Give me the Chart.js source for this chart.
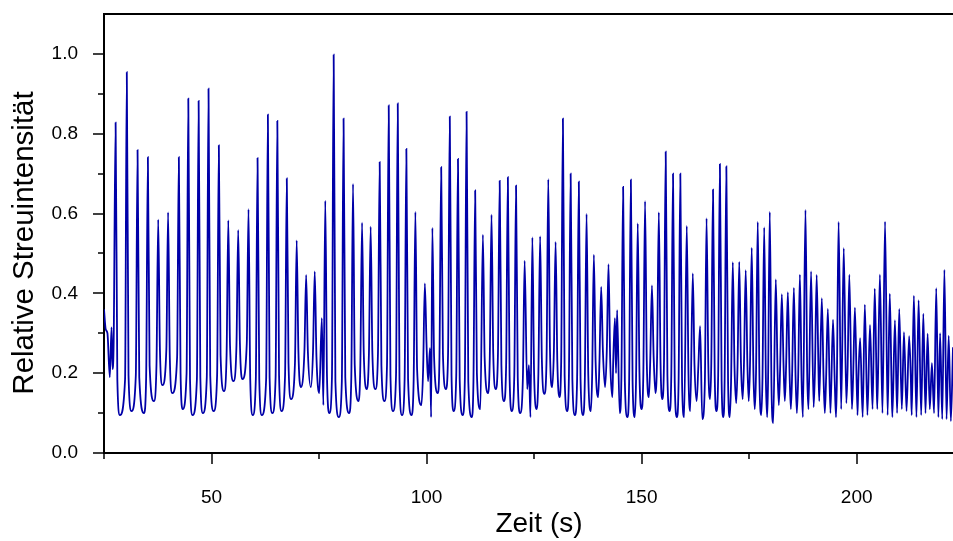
<!DOCTYPE html>
<html>
<head>
<meta charset="utf-8">
<script src="https://cdn.jsdelivr.net/npm/chart.js@4.4.1/dist/chart.umd.min.js"></script>
<style>
  html, body { margin: 0; padding: 0; background: #fff; }
</style>
</head>
<body>
<canvas id="c" width="953" height="541"></canvas>
<script>
// --- 資料 ---
// 開頭那段雜訊
const leadT = [25.0, 25.4, 25.8, 26.35, 26.75, 27.0, 27.25];
const leadV = [0.36, 0.31, 0.30, 0.19, 0.315, 0.21, 0.28];

// 每個尖峰 (時間, 強度)
const peakT = [27.7, 30.3, 32.8, 35.2, 37.6, 39.9, 42.4, 44.6, 47.0, 49.3,
  51.7, 53.9, 56.2, 58.6, 60.7, 63.1, 65.3, 67.5, 69.8, 72.0,
  74.0, 75.65, 76.45, 78.4, 80.7, 82.9, 85.0, 87.0, 89.1, 91.2,
  93.3, 95.3, 97.4, 99.6, 100.8, 101.35, 103.4, 105.4, 107.3, 109.3,
  111.3, 113.1, 115.1, 117.0, 118.9, 120.8, 122.8, 123.8, 124.6, 126.4,
  128.3, 130.0, 131.7, 133.5, 135.4, 137.2, 138.9, 140.6, 142.3, 143.8,
  144.3, 145.7, 147.5, 149.1, 150.8, 152.4, 154.0, 155.6, 157.3, 159.0,
  160.5, 161.9, 163.6, 165.1, 166.6, 168.2, 169.7, 171.2, 172.7, 174.2,
  175.6, 177.0, 178.5, 179.8, 181.2, 182.6, 184.0, 185.4, 186.8, 188.1,
  189.4, 190.7, 191.9, 193.3, 194.5, 195.8, 197.0, 198.3, 199.6, 200.8,
  201.9, 203.1, 204.2, 205.4, 206.6, 207.7, 208.9, 209.9, 211.0, 212.2,
  213.3, 214.4, 215.5, 216.5, 217.5, 218.5, 219.4, 220.4, 221.4];
const peakV = [0.828, 0.954, 0.759, 0.741, 0.585, 0.603, 0.741, 0.888, 0.882, 0.913,
  0.771, 0.583, 0.559, 0.611, 0.739, 0.848, 0.832, 0.688, 0.533, 0.446,
  0.455, 0.338, 0.632, 0.998, 0.838, 0.674, 0.577, 0.567, 0.729, 0.871,
  0.876, 0.762, 0.604, 0.425, 0.263, 0.564, 0.716, 0.843, 0.737, 0.855,
  0.658, 0.547, 0.597, 0.682, 0.691, 0.670, 0.482, 0.220, 0.540, 0.543,
  0.686, 0.529, 0.838, 0.700, 0.680, 0.599, 0.497, 0.416, 0.473, 0.338,
  0.358, 0.667, 0.685, 0.575, 0.631, 0.420, 0.603, 0.755, 0.700, 0.700,
  0.569, 0.450, 0.318, 0.588, 0.660, 0.724, 0.718, 0.478, 0.479, 0.458,
  0.514, 0.579, 0.565, 0.604, 0.435, 0.398, 0.403, 0.414, 0.447, 0.609,
  0.455, 0.446, 0.388, 0.361, 0.334, 0.579, 0.513, 0.447, 0.364, 0.288,
  0.372, 0.321, 0.412, 0.447, 0.580, 0.399, 0.333, 0.361, 0.303, 0.293,
  0.394, 0.383, 0.349, 0.299, 0.225, 0.413, 0.300, 0.459, 0.294];

// 每個尖峰之後的谷底 (時間, 強度)
const dipT = [28.7, 31.4, 34.3, 36.6, 38.6, 40.9, 43.3, 45.6, 48.0, 50.5,
  52.9, 55.1, 57.2, 59.6, 61.7, 64.15, 66.3, 68.5, 70.75, 73.1,
  75.05, 76.0, 77.4, 79.6, 82.0, 84.2, 86.1, 88.1, 90.2, 92.2,
  94.3, 96.5, 98.8, 100.35, 101.05, 102.6, 104.5, 106.3, 108.4, 110.5,
  112.5, 114.3, 116.1, 118.0, 119.8, 121.75, 123.4, 124.15, 125.6, 127.4,
  129.2, 130.9, 132.7, 134.5, 136.4, 138.2, 139.9, 141.5, 143.2, 144.05,
  144.9, 146.7, 148.4, 150.0, 151.7, 153.2, 154.8, 156.5, 158.2, 159.9,
  161.3, 162.8, 164.1, 165.9, 167.4, 169.0, 170.5, 172.0, 173.5, 174.9,
  176.3, 177.8, 179.2, 180.6, 181.9, 183.3, 184.7, 186.1, 187.5, 188.8,
  190.0, 191.3, 192.6, 193.9, 195.2, 196.4, 197.6, 198.9, 200.2, 201.4,
  202.5, 203.7, 204.8, 206.0, 207.2, 208.3, 209.4, 210.5, 211.6, 212.8,
  213.9, 215.0, 216.0, 217.0, 218.0, 219.0, 219.9, 220.9, 221.9];
const dipV = [0.095, 0.105, 0.100, 0.130, 0.170, 0.150, 0.110, 0.095, 0.100, 0.105,
  0.155, 0.180, 0.185, 0.095, 0.095, 0.100, 0.105, 0.135, 0.165, 0.165,
  0.150, 0.120, 0.100, 0.090, 0.100, 0.130, 0.160, 0.160, 0.130, 0.105,
  0.095, 0.095, 0.120, 0.180, 0.090, 0.150, 0.160, 0.105, 0.095, 0.090,
  0.110, 0.150, 0.160, 0.130, 0.105, 0.100, 0.160, 0.090, 0.110, 0.148,
  0.165, 0.140, 0.105, 0.095, 0.095, 0.105, 0.140, 0.165, 0.140, 0.200,
  0.100, 0.090, 0.090, 0.110, 0.140, 0.150, 0.135, 0.105, 0.090, 0.090,
  0.105, 0.130, 0.085, 0.135, 0.105, 0.090, 0.090, 0.125, 0.135, 0.130,
  0.110, 0.095, 0.090, 0.075, 0.120, 0.130, 0.110, 0.100, 0.090, 0.110,
  0.115, 0.130, 0.100, 0.100, 0.090, 0.110, 0.125, 0.110, 0.095, 0.090,
  0.095, 0.110, 0.110, 0.100, 0.095, 0.090, 0.100, 0.110, 0.105, 0.095,
  0.090, 0.095, 0.100, 0.110, 0.100, 0.090, 0.085, 0.085, 0.080];

// 右邊界的最後一點
const tailT = [222.4];
const tailV = [0.265];

// 刻度
const xMajor = [50, 100, 150, 200];
const xMinor = [25, 75, 125, 175];
const yMajor = [0, 0.2, 0.4, 0.6, 0.8, 1.0];
const yMinor = [0.1, 0.3, 0.5, 0.7, 0.9];

// 標題
const X_TITLE = 'Zeit (s)';
const Y_TITLE = 'Relative Streuintensität';

// 尖峰形狀: 尖端兩側的腳 (秒) 和腳比谷底高多少
const SPIKE_HALF = 0.4;
const SHOULDER = 0.09;

const LINE = '#0000a8';
const FONT = "'Liberation Sans', Arial, sans-serif";

// --- 組資料點 ---
const points = leadT.map((t, i) => ({ x: t, y: leadV[i] }));
peakT.forEach((t, i) => {
  const prevT = i ? dipT[i - 1] : leadT[leadT.length - 1];
  const prevV = i ? dipV[i - 1] : leadV[leadV.length - 1];
  // 起跳點
  if (t - SPIKE_HALF > prevT + 0.2 && prevV + SHOULDER < peakV[i]) {
    points.push({ x: t - SPIKE_HALF, y: prevV + SHOULDER });
  }
  points.push({ x: t, y: peakV[i] });
  // 掉下來的膝點
  if (t + SPIKE_HALF < dipT[i] - 0.2 && dipV[i] + SHOULDER < peakV[i]) {
    points.push({ x: t + SPIKE_HALF, y: dipV[i] + SHOULDER });
  }
  points.push({ x: dipT[i], y: dipV[i] });
});
tailT.forEach((t, i) => points.push({ x: t, y: tailV[i] }));

// 自己畫刻度線、上框線和座標軸標題
const frame = {
  id: 'frame',
  afterDraw(chart) {
    const { ctx, chartArea: a, scales: { x, y } } = chart;
    ctx.save();
    ctx.strokeStyle = '#000';
    const seg = (x1, y1, x2, y2) => { ctx.beginPath(); ctx.moveTo(x1, y1); ctx.lineTo(x2, y2); ctx.stroke(); };
    ctx.lineWidth = 2;
    seg(a.left, a.top, a.right, a.top);
    ctx.lineWidth = 1.5;
    xMajor.forEach(v => { const p = Math.round(x.getPixelForValue(v)); seg(p, a.bottom, p, a.bottom + 11); });
    xMinor.forEach(v => { const p = Math.round(x.getPixelForValue(v)); seg(p, a.bottom, p, a.bottom + 6); });
    yMajor.forEach(v => { const p = Math.round(y.getPixelForValue(v)); seg(a.left, p, a.left - 11, p); });
    yMinor.forEach(v => { const p = Math.round(y.getPixelForValue(v)); seg(a.left, p, a.left - 6, p); });

    ctx.fillStyle = '#000';
    ctx.textAlign = 'center';
    ctx.textBaseline = 'middle';
    ctx.font = `28px ${FONT}`;
    ctx.fillText(X_TITLE, 539, 524);
    ctx.translate(25, 243);
    ctx.rotate(-Math.PI / 2);
    ctx.font = `29.5px ${FONT}`;
    ctx.fillText(Y_TITLE, 0, 0);
    ctx.restore();
  }
};

new Chart(document.getElementById('c'), {
  type: 'line',
  data: {
    datasets: [{
      data: points,
      borderColor: LINE,
      borderWidth: 1.8,
      pointRadius: 0,
      cubicInterpolationMode: 'monotone',
      fill: false
    }]
  },
  options: {
    responsive: false,
    animation: false,
    devicePixelRatio: 1,
    layout: { padding: { top: 14, right: 0, left: 0, bottom: 0 } },
    plugins: { legend: { display: false }, tooltip: { enabled: false } },
    scales: {
      x: {
        type: 'linear',
        min: 25,
        max: 222.4,
        afterFit: s => { s.height = 88; s.paddingLeft = 0; s.paddingRight = 0; },
        grid: { display: false, drawTicks: false },
        border: { display: true, color: '#000', width: 2 },
        ticks: {
          stepSize: 25,
          autoSkip: false,
          maxRotation: 0,
          padding: 33,
          color: '#000',
          font: { family: FONT, size: 19 },
          callback: v => xMajor.includes(v) ? String(v) : null
        }
      },
      y: {
        min: 0,
        max: 1.1,
        afterFit: s => { s.width = 104; s.paddingTop = 0; s.paddingBottom = 0; },
        grid: { display: false, drawTicks: false },
        border: { display: true, color: '#000', width: 2 },
        ticks: {
          stepSize: 0.1,
          autoSkip: false,
          padding: 26,
          color: '#000',
          font: { family: FONT, size: 19 },
          callback: v => (Math.round(v * 10) % 2 === 0 && v < 1.05) ? v.toFixed(1) : null
        }
      }
    }
  },
  plugins: [frame]
});
</script>
</body>
</html>
